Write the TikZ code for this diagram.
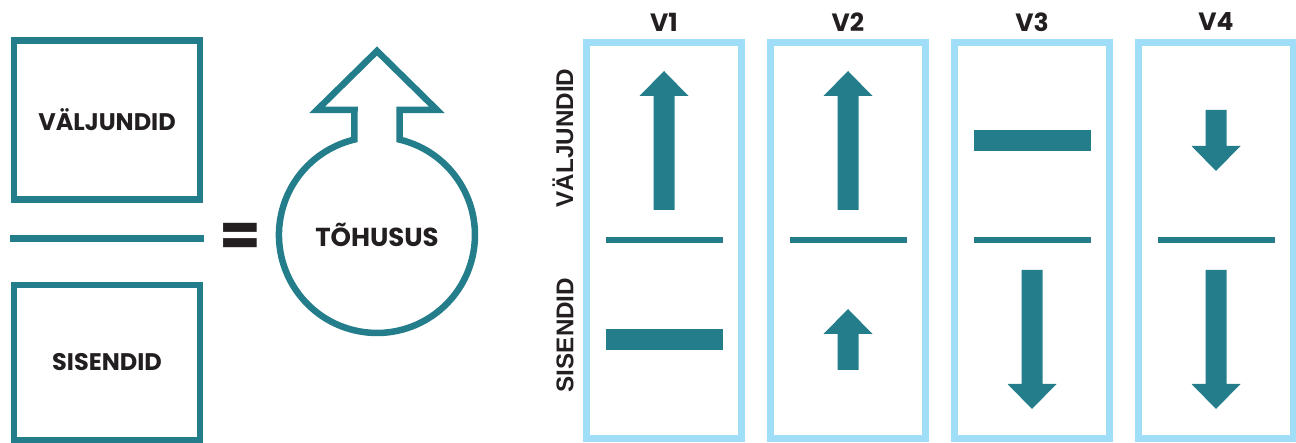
\documentclass[tikz,border=0pt]{standalone}
\usepackage{fontspec}
\setmainfont{Poppins}
\newfontfamily\sidefont{Liberation Sans}
\usetikzlibrary{positioning}
\definecolor{efteal}{RGB}{36,125,138}
\definecolor{efsky}{RGB}{160,222,248}
\definecolor{efink}{RGB}{35,31,32}

\tikzset{
  termbox/.style={draw=efteal,line width=3.25pt,minimum width=93pt,text=efink,
    font=\bfseries\fontsize{12}{14}\selectfont},
  panel/.style={draw=efsky,line width=3.4pt,minimum width=77.5pt,minimum height=198pt},
  colhead/.style={text=efink,font=\bfseries\fontsize{12.5}{14}\selectfont},
  sidelbl/.style={text=efink,rotate=90,font=\sidefont\bfseries\fontsize{12.1}{14}\selectfont},
  fracline/.style={draw=efteal,line width=3.4pt},
  pics/uparr/.style={code={
    \fill[efteal] (-10.5,0) -- (-10.5,#1-25) -- (-24.5,#1-25) -- (0,#1)
      -- (24.5,#1-25) -- (10.5,#1-25) -- (10.5,0) -- cycle;}},
  pics/flatbar/.style={code={
    \fill[efteal] (-58.5,-10.5) rectangle (58.5,10.5);}},
}

\begin{document}
\begin{tikzpicture}[x=0.5pt,y=0.5pt]
  \useasboundingbox (0,0) rectangle (1296,443);

  % Outputs over inputs
  \node[termbox,minimum height=79.5pt] (outs) at (107,323) {VÄLJUNDID};
  \node[termbox,minimum height=77.5pt] (ins) at (107,80.5) {SISENDID};
  \draw[fracline,line width=3.5pt] (10,204) -- (204,204);
  \node[text=efink,font=\bfseries\fontsize{30}{30}\selectfont,inner sep=0pt] (eq) at (240,203.5) {=};

  % Efficiency circle with arrow
  \coordinate (eff) at (377,208);
  \draw[efteal,line width=3.25pt,miter limit=4]
    (354.5,333) -- (317,333) -- (377,392) -- (437,333) -- (399.5,333)
    -- (399.5,303.4) arc[start angle=76.7,end angle=-256.7,radius=98] -- cycle;
  \node[text=efink,font=\bfseries\fontsize{13}{14}\selectfont] (effl) at (eff) {TÕHUSUS};

  % Side labels
  \node[sidelbl] (outl) at (563,305) {VÄLJUNDID};
  \node[sidelbl] (inl) at (565,108) {SISENDID};

  % Variants
  \foreach \i/\x in {1/664,2/848,3/1032,4/1216} {
    \node[panel] (p\i) at (\x,202.5) {};
    \node[colhead] (v\i) at (\x,421) {V\i};
    \draw[fracline] (\x-58.5,203) -- (\x+58.5,203);
  }

  % V1
  \path (664,233) pic {uparr=139};
  \path (664,103.5) pic {flatbar};
  % V2
  \path (848,233) pic {uparr=139};
  \path (848,73) pic {uparr=61};
  % V3
  \path (1032,302.5) pic {flatbar};
  \path (1032,173) pic[rotate=180] {uparr=139};
  % V4
  \path (1216,333) pic[rotate=180] {uparr=61};
  \path (1216,173) pic[rotate=180] {uparr=139};
\end{tikzpicture}
\end{document}
